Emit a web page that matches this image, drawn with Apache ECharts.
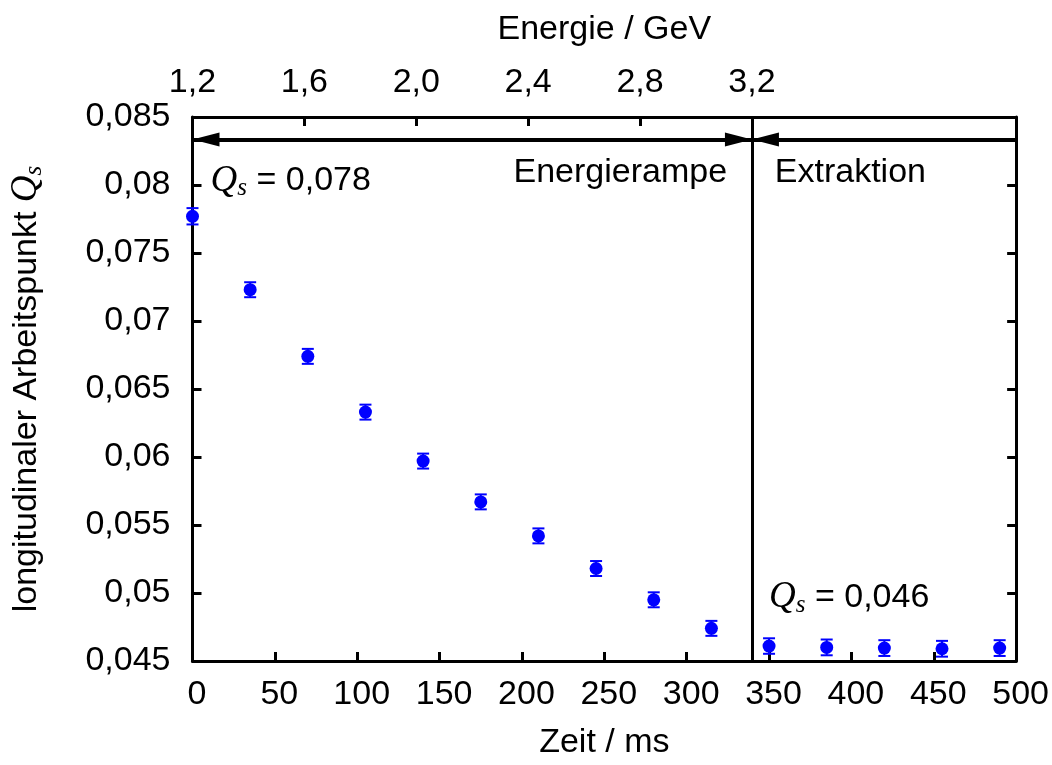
<!DOCTYPE html>
<html><head><meta charset="utf-8">
<script src="https://cdn.jsdelivr.net/npm/echarts@6/dist/echarts.min.js"></script>
<style>html,body{margin:0;padding:0;background:#fff}#c{width:1052px;height:765px}</style>
</head><body><div id="c"></div>
<script>
// ---- data ----
const timeMs   = [0, 35, 70, 105, 140, 175, 210, 245, 280, 315, 350, 385, 420, 455, 490];
const qsValues = [0.0777, 0.0723, 0.0674, 0.0633, 0.0597, 0.0567, 0.0542, 0.0518, 0.0495, 0.0474,
                  0.0461, 0.0460, 0.04595, 0.04590, 0.04595];
const qsErrors = [0.0006, 0.00055, 0.00055, 0.00055, 0.00055, 0.00055, 0.00055, 0.00055, 0.00055, 0.00055,
                  0.00057, 0.00058, 0.00058, 0.00058, 0.00058];
const timeTicks = [0, 50, 100, 150, 200, 250, 300, 350, 400, 450, 500];
const yTicks = [0.045, 0.05, 0.055, 0.06, 0.065, 0.07, 0.075, 0.08, 0.085];
const yTickLabels = ['0,045', '0,05', '0,055', '0,06', '0,065', '0,07', '0,075', '0,08', '0,085'];
const energyTicks = [1.2, 1.6, 2.0, 2.4, 2.8, 3.2];
const energyTickLabels = ['1,2', '1,6', '2,0', '2,4', '2,8', '3,2'];
const rampEndMs = 339.6;          // end of energy ramp / start of extraction
const energyStart = 1.2, energyEnd = 3.2;
const qsStartLabel = '0,078', qsEndLabel = '0,046';

// ---- derived ----
const tMax = timeTicks[timeTicks.length - 1];
const energyMax = energyStart + (energyEnd - energyStart) * tMax / rampEndMs;
const arrowQ = 0.08335;
const FONT = 'Liberation Sans';
const FS = 34;
const richQ = {
  q: {fontFamily: 'Liberation Serif', fontStyle: 'italic', fontSize: 37, color: '#000'},
  s: {fontFamily: 'Liberation Serif', fontStyle: 'italic', fontSize: 25, color: '#000', padding: [15, 0, 0, 0]},
  t: {fontFamily: FONT, fontSize: FS, color: '#000'}
};
const head = {symbol: 'triangle', symbolSize: [14, 27], symbolOffset: [0, 13.5]};

const chart = echarts.init(document.getElementById('c'), null, {renderer: 'canvas'});
const axisLine = {show: true, onZero: false, lineStyle: {color: '#000', width: 3}};
const axisTick = {show: true, inside: true, length: 9, lineStyle: {color: '#000', width: 3}};
const labelStyle = {color: '#000', fontFamily: FONT, fontSize: FS};

chart.setOption({
  animation: false,
  backgroundColor: '#fff',
  grid: {left: 191, right: 35, top: 117, bottom: 102, containLabel: false},
  xAxis: [
    {
      type: 'value', position: 'bottom', min: 0, max: tMax, interval: 50,
      axisLine, axisTick, splitLine: {show: false},
      axisLabel: Object.assign({margin: 17, padding: [0, 0, 0, 9]}, labelStyle),
      name: 'Zeit / ms', nameLocation: 'middle', nameGap: 65,
      nameTextStyle: labelStyle
    },
    {
      type: 'value', position: 'top', min: energyStart, max: energyMax,
      axisLine, splitLine: {show: false},
      axisTick: Object.assign({customValues: energyTicks}, axisTick),
      axisLabel: Object.assign({
        margin: 17, customValues: energyTicks,
        formatter: v => energyTickLabels[energyTicks.findIndex(e => Math.abs(e - v) < 1e-6)]
      }, labelStyle),
      name: 'Energie / GeV', nameLocation: 'middle', nameGap: 70,
      nameTextStyle: labelStyle
    }
  ],
  yAxis: [
    {
      type: 'value', position: 'left', min: 0.045, max: 0.085, interval: 0.005,
      axisLine, axisTick, splitLine: {show: false},
      axisLabel: Object.assign({
        margin: 22,
        formatter: v => yTickLabels[yTicks.findIndex(e => Math.abs(e - v) < 1e-7)]
      }, labelStyle),
      name: '{t|longitudinaler Arbeitspunkt }{q|Q}{s|s}',
      nameLocation: 'middle', nameGap: 146, nameRotate: 90,
      nameTextStyle: Object.assign({rich: richQ}, labelStyle)
    },
    {
      type: 'value', position: 'right', min: 0.045, max: 0.085, interval: 0.005,
      axisLine, axisTick, splitLine: {show: false}, axisLabel: {show: false}
    }
  ],
  series: [
    {
      type: 'custom', xAxisIndex: 0, yAxisIndex: 0, z: 2,
      data: timeMs.map((t, i) => [t, qsValues[i], qsErrors[i]]),
      encode: {x: 0, y: 1},
      renderItem: (params, api) => {
        const x = api.value(0), y = api.value(1), e = api.value(2);
        const top = api.coord([x, y + e]), bot = api.coord([x, y - e]);
        const hw = 6, st = {stroke: '#0000ff', lineWidth: 2};
        return {type: 'group', children: [
          {type: 'line', shape: {x1: top[0], y1: top[1], x2: bot[0], y2: bot[1]}, style: st},
          {type: 'line', shape: {x1: top[0] - hw, y1: top[1], x2: top[0] + hw, y2: top[1]}, style: st},
          {type: 'line', shape: {x1: bot[0] - hw, y1: bot[1], x2: bot[0] + hw, y2: bot[1]}, style: st}
        ]};
      }
    },
    {
      type: 'scatter', xAxisIndex: 0, yAxisIndex: 0, z: 3,
      symbol: 'circle', symbolSize: 13,
      itemStyle: {color: '#0000ff', opacity: 1},
      data: timeMs.map((t, i) => [t, qsValues[i]]),
      markLine: {
        silent: true, animation: false,
        symbol: ['none', 'none'],
        label: {show: false},
        lineStyle: {color: '#000', type: 'solid', width: 3},
        data: [
          {xAxis: rampEndMs, lineStyle: {width: 3}},
          [Object.assign({coord: [0, arrowQ]}, head),
           Object.assign({coord: [rampEndMs, arrowQ], lineStyle: {width: 4}}, head)],
          [{coord: [tMax, arrowQ], symbol: 'none', lineStyle: {width: 4}},
           Object.assign({coord: [rampEndMs, arrowQ]}, head)]
        ]
      },
      markPoint: {
        silent: true, animation: false,
        symbol: 'circle', symbolSize: 0,
        itemStyle: {color: 'transparent'},
        label: Object.assign({show: true, distance: 0, rich: richQ}, labelStyle),
        data: [
          {coord: [324.5, 0.08094], label: {position: 'left', formatter: 'Energierampe'}},
          {coord: [353.5, 0.08094], label: {position: 'right', formatter: 'Extraktion'}},
          {coord: [11, 0.08030], label: {position: 'right', formatter: '{q|Q}{s|s}{t| = ' + qsStartLabel + '}'}},
          {coord: [350, 0.04965], label: {position: 'right', formatter: '{q|Q}{s|s}{t| = ' + qsEndLabel + '}'}}
        ]
      }
    }
  ]
});
</script></body></html>
